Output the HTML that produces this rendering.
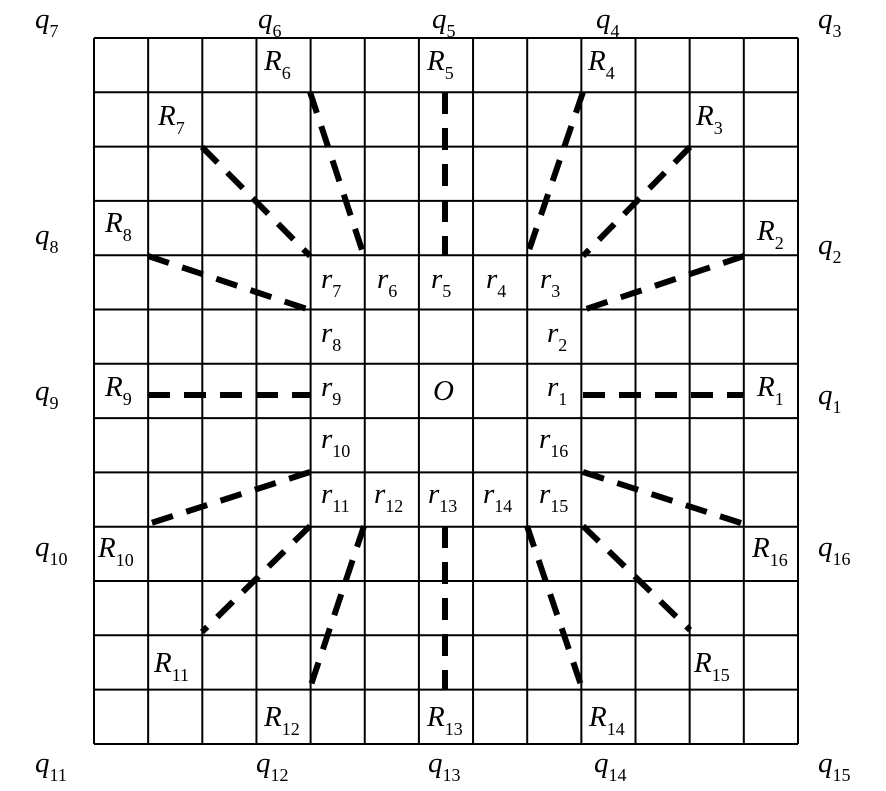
<!DOCTYPE html>
<html><head><meta charset="utf-8"><style>
html,body{margin:0;padding:0;background:#fff;}
svg{display:block;}
text{font-family:"Liberation Serif",serif;font-style:italic;font-size:29px;fill:#000;}
tspan.s{font-style:normal;font-size:18px;}
</style></head><body>
<svg width="886" height="791" viewBox="0 0 886 791" xmlns="http://www.w3.org/2000/svg">
<g stroke="#000" stroke-width="2" fill="none">
<line x1="94" y1="38" x2="94" y2="744"/>
<line x1="148.15" y1="38" x2="148.15" y2="744"/>
<line x1="202.3" y1="38" x2="202.3" y2="744"/>
<line x1="256.45" y1="38" x2="256.45" y2="744"/>
<line x1="310.6" y1="38" x2="310.6" y2="744"/>
<line x1="364.75" y1="38" x2="364.75" y2="744"/>
<line x1="418.9" y1="38" x2="418.9" y2="744"/>
<line x1="473.05" y1="38" x2="473.05" y2="744"/>
<line x1="527.2" y1="38" x2="527.2" y2="744"/>
<line x1="581.35" y1="38" x2="581.35" y2="744"/>
<line x1="635.5" y1="38" x2="635.5" y2="744"/>
<line x1="689.65" y1="38" x2="689.65" y2="744"/>
<line x1="743.8" y1="38" x2="743.8" y2="744"/>
<line x1="798" y1="38" x2="798" y2="744"/>
<line x1="94" y1="38" x2="798" y2="38"/>
<line x1="94" y1="92.3" x2="798" y2="92.3"/>
<line x1="94" y1="146.6" x2="798" y2="146.6"/>
<line x1="94" y1="200.9" x2="798" y2="200.9"/>
<line x1="94" y1="255.2" x2="798" y2="255.2"/>
<line x1="94" y1="309.5" x2="798" y2="309.5"/>
<line x1="94" y1="363.8" x2="798" y2="363.8"/>
<line x1="94" y1="418.1" x2="798" y2="418.1"/>
<line x1="94" y1="472.4" x2="798" y2="472.4"/>
<line x1="94" y1="526.7" x2="798" y2="526.7"/>
<line x1="94" y1="581" x2="798" y2="581"/>
<line x1="94" y1="635.3" x2="798" y2="635.3"/>
<line x1="94" y1="689.6" x2="798" y2="689.6"/>
<line x1="94" y1="744" x2="798" y2="744"/>
</g>
<g stroke="#000" stroke-width="6" stroke-dasharray="22,14" fill="none">
<line x1="310" y1="92" x2="364" y2="256"/>
<line x1="202" y1="147" x2="310" y2="256"/>
<line x1="148" y1="256" x2="310" y2="310"/>
<line x1="148" y1="395" x2="310" y2="395"/>
<line x1="445" y1="92" x2="445" y2="256"/>
<line x1="583" y1="92" x2="527" y2="256"/>
<line x1="690" y1="147" x2="583" y2="256"/>
<line x1="744" y1="256" x2="583" y2="310"/>
<line x1="583" y1="395" x2="744" y2="395"/>
<line x1="310" y1="472" x2="148" y2="524"/>
<line x1="310" y1="526" x2="202" y2="632"/>
<line x1="364" y1="526" x2="310" y2="688"/>
<line x1="445" y1="526" x2="445" y2="690"/>
<line x1="527" y1="526" x2="582" y2="688"/>
<line x1="583" y1="526" x2="690" y2="630"/>
<line x1="583" y1="472" x2="744" y2="524"/>
</g>
<g>
<text x="35" y="28">q<tspan class="s" dy="9">7</tspan></text>
<text x="258" y="28">q<tspan class="s" dy="9">6</tspan></text>
<text x="432" y="28">q<tspan class="s" dy="9">5</tspan></text>
<text x="596" y="28">q<tspan class="s" dy="9">4</tspan></text>
<text x="818" y="28">q<tspan class="s" dy="9">3</tspan></text>
<text x="35" y="244">q<tspan class="s" dy="9">8</tspan></text>
<text x="818" y="254">q<tspan class="s" dy="9">2</tspan></text>
<text x="35" y="400">q<tspan class="s" dy="9">9</tspan></text>
<text x="818" y="404">q<tspan class="s" dy="9">1</tspan></text>
<text x="35" y="556">q<tspan class="s" dy="9">10</tspan></text>
<text x="818" y="556">q<tspan class="s" dy="9">16</tspan></text>
<text x="35" y="772">q<tspan class="s" dy="9">11</tspan></text>
<text x="256" y="772">q<tspan class="s" dy="9">12</tspan></text>
<text x="428" y="772">q<tspan class="s" dy="9">13</tspan></text>
<text x="594" y="772">q<tspan class="s" dy="9">14</tspan></text>
<text x="818" y="772">q<tspan class="s" dy="9">15</tspan></text>

<text x="264" y="70">R<tspan class="s" dy="9">6</tspan></text>
<text x="427" y="70">R<tspan class="s" dy="9">5</tspan></text>
<text x="588" y="70">R<tspan class="s" dy="9">4</tspan></text>
<text x="158" y="125">R<tspan class="s" dy="9">7</tspan></text>
<text x="696" y="125">R<tspan class="s" dy="9">3</tspan></text>
<text x="105" y="232">R<tspan class="s" dy="9">8</tspan></text>
<text x="757" y="240">R<tspan class="s" dy="9">2</tspan></text>
<text x="105" y="396">R<tspan class="s" dy="9">9</tspan></text>
<text x="757" y="396">R<tspan class="s" dy="9">1</tspan></text>
<text x="98" y="557">R<tspan class="s" dy="9">10</tspan></text>
<text x="752" y="557">R<tspan class="s" dy="9">16</tspan></text>
<text x="154" y="672">R<tspan class="s" dy="9">11</tspan></text>
<text x="694" y="672">R<tspan class="s" dy="9">15</tspan></text>
<text x="264" y="726">R<tspan class="s" dy="9">12</tspan></text>
<text x="427" y="726">R<tspan class="s" dy="9">13</tspan></text>
<text x="589" y="726">R<tspan class="s" dy="9">14</tspan></text>

<text x="321" y="288">r<tspan class="s" dy="9">7</tspan></text>
<text x="377" y="288">r<tspan class="s" dy="9">6</tspan></text>
<text x="431" y="288">r<tspan class="s" dy="9">5</tspan></text>
<text x="486" y="288">r<tspan class="s" dy="9">4</tspan></text>
<text x="540" y="288">r<tspan class="s" dy="9">3</tspan></text>
<text x="321" y="342">r<tspan class="s" dy="9">8</tspan></text>
<text x="547" y="342">r<tspan class="s" dy="9">2</tspan></text>
<text x="321" y="396">r<tspan class="s" dy="9">9</tspan></text>
<text x="433" y="400">O</text>
<text x="547" y="396">r<tspan class="s" dy="9">1</tspan></text>
<text x="321" y="448">r<tspan class="s" dy="9">10</tspan></text>
<text x="539" y="448">r<tspan class="s" dy="9">16</tspan></text>
<text x="321" y="503">r<tspan class="s" dy="9">11</tspan></text>
<text x="374" y="503">r<tspan class="s" dy="9">12</tspan></text>
<text x="428" y="503">r<tspan class="s" dy="9">13</tspan></text>
<text x="483" y="503">r<tspan class="s" dy="9">14</tspan></text>
<text x="539" y="503">r<tspan class="s" dy="9">15</tspan></text>
</g>
</svg>
</body></html>
